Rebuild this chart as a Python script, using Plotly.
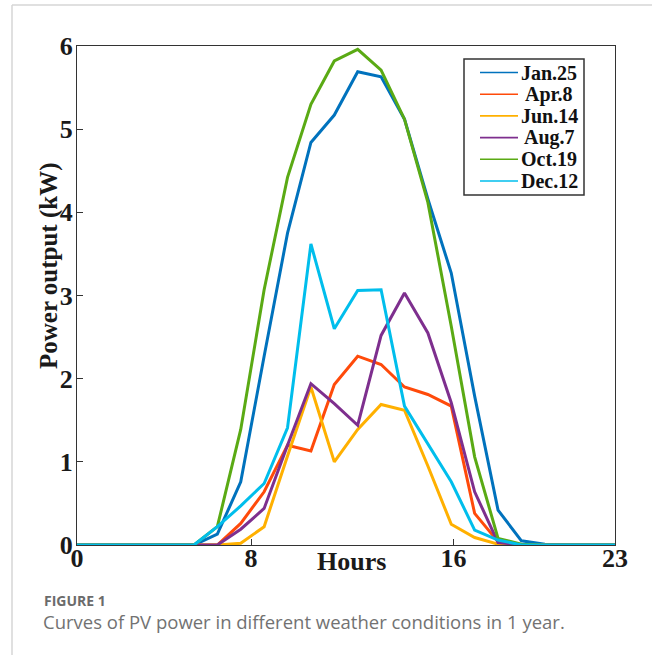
import plotly.graph_objects as go

hours = list(range(24))
series_names = ["Jan.25", "Apr.8", "Jun.14", "Aug.7", "Oct.19", "Dec.12"]
jan25 = [0, 0, 0, 0, 0, 0, 0.13, 0.76, 2.27, 3.75, 4.84, 5.17, 5.69, 5.63, 5.12, 4.16, 3.27, 1.79, 0.42, 0.05, 0.01, 0, 0, 0]
apr8 = [0, 0, 0, 0, 0, 0, 0, 0.26, 0.64, 1.20, 1.13, 1.93, 2.27, 2.17, 1.90, 1.81, 1.67, 0.38, 0.04, 0, 0, 0, 0, 0]
jun14 = [0, 0, 0, 0, 0, 0, 0, 0.02, 0.22, 1.07, 1.90, 1.00, 1.39, 1.69, 1.62, 0.95, 0.25, 0.09, 0.01, 0, 0, 0, 0, 0]
aug7 = [0, 0, 0, 0, 0, 0, 0, 0.19, 0.44, 1.20, 1.94, 1.70, 1.44, 2.52, 3.03, 2.55, 1.71, 0.64, 0.03, 0, 0, 0, 0, 0]
oct19 = [0, 0, 0, 0, 0, 0, 0.22, 1.39, 3.07, 4.42, 5.30, 5.82, 5.96, 5.71, 5.12, 4.12, 2.63, 1.06, 0.08, 0.01, 0, 0, 0, 0]
dec12 = [0, 0, 0, 0, 0, 0, 0.22, 0.47, 0.74, 1.41, 3.62, 2.60, 3.06, 3.07, 1.67, 1.22, 0.76, 0.18, 0.06, 0, 0, 0, 0, 0]
series_values = [jan25, apr8, jun14, aug7, oct19, dec12]
colors = ["#0072BD", "#FF4A0A", "#FFB000", "#7E2F8E", "#5AAA14", "#00BEEC"]

x_tick_vals = [0, 7.44, 16.1, 23]
x_tick_text = ["0", "8", "16", "23"]
y_tick_vals = [0, 1, 2, 3, 4, 5, 6]

W, H = 652, 657
L, R, T, B = 77, 615, 46, 545

def px(x):
    return (x - L) / (R - L)

def py(y):
    return (B - y) / (B - T)

serif = "Liberation Serif"
fig = go.Figure()
for name, vals, col in zip(series_names, series_values, colors):
    fig.add_trace(go.Scatter(x=hours, y=vals, mode="lines", name=name,
                             line=dict(color=col, width=3)))

axis_font = dict(family=serif, size=26, color="#1a1a1a", weight="bold")
fig.update_layout(
    width=W, height=H,
    margin=dict(l=L, r=W - R, t=T, b=H - B, pad=0),
    paper_bgcolor="white", plot_bgcolor="white",
    showlegend=False,
    xaxis=dict(range=[0, 23], tickvals=x_tick_vals, ticktext=x_tick_text,
               ticks="inside", ticklen=6, tickcolor="#333333",
               showline=True, linecolor="#333333", linewidth=1.3, mirror=True,
               showgrid=False, zeroline=False, tickfont=axis_font,
               ticklabelstandoff=-10),
    yaxis=dict(range=[0, 6], tickvals=y_tick_vals,
               ticks="inside", ticklen=6, tickcolor="#333333",
               showline=True, linecolor="#333333", linewidth=1.3, mirror=True,
               showgrid=False, zeroline=False, tickfont=axis_font,
               ticklabelstandoff=-2),
)

# legend box (drawn by hand for compact row spacing)
leg_l, leg_r, leg_t, leg_b = 464, 584, 59, 195
row0, row_gap = 72.5, 21.7
fig.add_shape(type="rect", xref="paper", yref="paper",
              x0=px(leg_l), x1=px(leg_r), y0=py(leg_b), y1=py(leg_t),
              line=dict(color="#333333", width=1.5), fillcolor="white", layer="above")
for i, (name, col) in enumerate(zip(series_names, colors)):
    yy = row0 + i * row_gap
    fig.add_shape(type="line", xref="paper", yref="paper",
                  x0=px(480), x1=px(518), y0=py(yy), y1=py(yy),
                  line=dict(color=col, width=1.6), layer="above")
    fig.add_annotation(text=name, xref="paper", yref="paper",
                       x=px(549), y=py(yy), showarrow=False,
                       xanchor="center", yanchor="middle",
                       font=dict(family=serif, size=20, color="#111111", weight="bold"))

fig.add_annotation(text="Power output (kW)", xref="paper", yref="paper",
                   x=px(49), y=py(266), textangle=-90, showarrow=False,
                   xanchor="center", yanchor="middle",
                   font=dict(family=serif, size=25, color="#1a1a1a", weight="bold"))
fig.add_annotation(text="Hours", xref="paper", yref="paper",
                   x=px(351), y=py(561), showarrow=False,
                   xanchor="center", yanchor="middle",
                   font=dict(family=serif, size=26, color="#1a1a1a", weight="bold"))
fig.add_annotation(text="FIGURE 1", xref="paper", yref="paper",
                   x=px(42), y=py(600), showarrow=False,
                   xanchor="left", yanchor="middle",
                   font=dict(family="Open Sans", size=14, color="#6b6b6b", weight="bold"))
fig.add_annotation(text="Curves of PV power in different weather conditions in 1 year.",
                   xref="paper", yref="paper",
                   x=px(41), y=py(621), showarrow=False,
                   xanchor="left", yanchor="middle",
                   font=dict(family="Open Sans", size=18.5, color="#727272"))

# light frame around the figure panel
fig.add_shape(type="line", xref="paper", yref="paper",
              x0=px(12), x1=px(12), y0=py(5), y1=py(655),
              line=dict(color="#d6d6d6", width=1.5))
fig.add_shape(type="line", xref="paper", yref="paper",
              x0=px(12), x1=px(660), y0=py(5), y1=py(5),
              line=dict(color="#d6d6d6", width=1.5))

fig.write_html("out.html", config={"displayModeBar": False},
               post_script="document.body.style.margin='0';document.body.style.overflow='hidden';")
